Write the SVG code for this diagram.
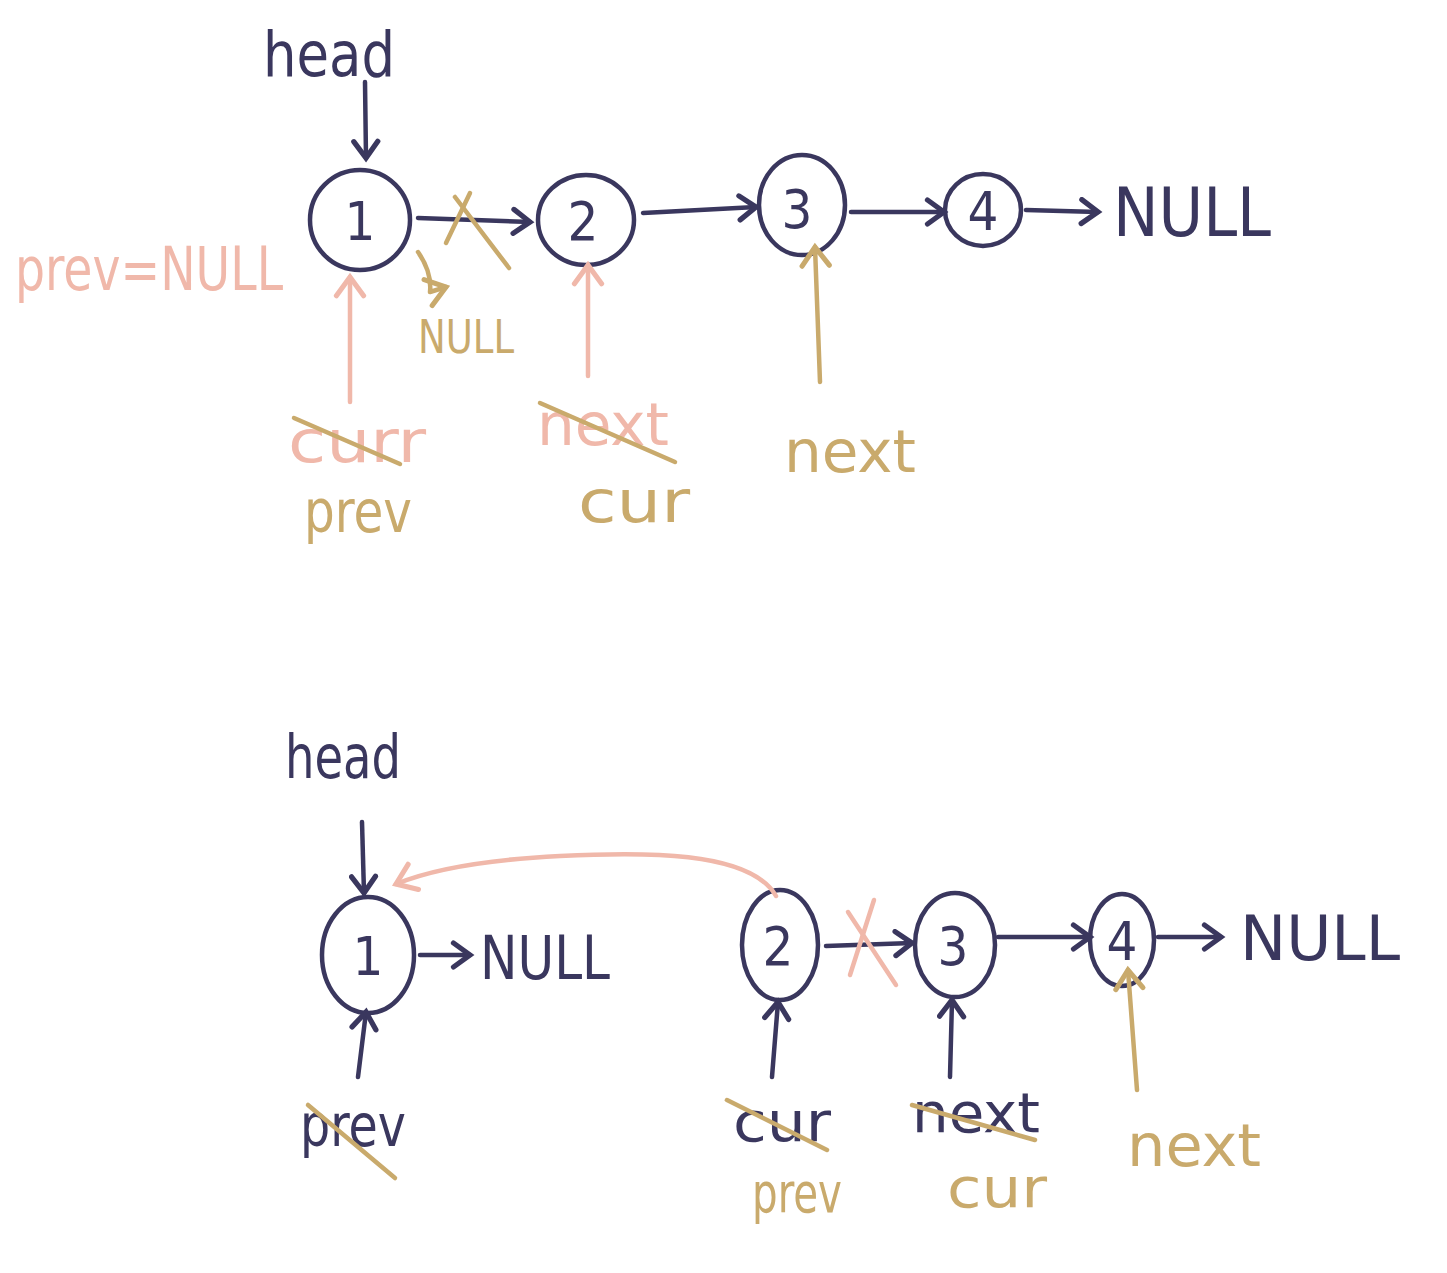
<svg xmlns="http://www.w3.org/2000/svg" width="1447" height="1273" viewBox="0 0 1447 1273">
<defs>
<style>
.n{fill:none;stroke:#3a375e;stroke-width:4.5;stroke-linecap:round;stroke-linejoin:round}
.p{fill:none;stroke:#f0b8aa;stroke-width:4.5;stroke-linecap:round;stroke-linejoin:round}
.g{fill:none;stroke:#c9aa6c;stroke-width:4.5;stroke-linecap:round;stroke-linejoin:round}
text{font-family:"DejaVu Sans","Liberation Sans",sans-serif;font-weight:normal;font-stretch:condensed}
.tn{fill:#3a375e}
.tp{fill:#f0b8aa}
.tg{fill:#c9aa6c}
.lbl{font-size:54px;text-anchor:middle}
</style>
<marker id="an" markerUnits="userSpaceOnUse" markerWidth="30" markerHeight="30" refX="14" refY="10" viewBox="0 0 20 20" orient="auto"><path d="M3,2 L14,10 L3,18" fill="none" stroke="#3a375e" stroke-width="3.5" stroke-linecap="round"/></marker>
<marker id="ap" markerUnits="userSpaceOnUse" markerWidth="34" markerHeight="34" refX="14" refY="10" viewBox="0 0 20 20" orient="auto"><path d="M3,2 L14,10 L3,18" fill="none" stroke="#f0b8aa" stroke-width="3" stroke-linecap="round"/></marker>
<marker id="ag" markerUnits="userSpaceOnUse" markerWidth="34" markerHeight="34" refX="14" refY="10" viewBox="0 0 20 20" orient="auto"><path d="M3,2 L14,10 L3,18" fill="none" stroke="#c9aa6c" stroke-width="3" stroke-linecap="round"/></marker>
</defs>
<rect width="1447" height="1273" fill="#ffffff"/>

<!-- Top diagram nodes -->
<g id="t-node1"><ellipse class="n" cx="360" cy="220" rx="50" ry="50"/><text class="tn lbl" x="360" y="240">1</text></g>
<g id="t-node2"><ellipse class="n" cx="586" cy="220" rx="48" ry="45"/><text class="tn lbl" x="583" y="240">2</text></g>
<g id="t-node3"><ellipse class="n" cx="802" cy="205" rx="43" ry="50"/><text class="tn lbl" x="797" y="228">3</text></g>
<g id="t-node4"><ellipse class="n" cx="983" cy="210" rx="38" ry="36"/><text class="tn lbl" x="983" y="230">4</text></g>
<g id="t-null"><text class="tn" x="1113" y="236" font-size="68" textLength="158" lengthAdjust="spacingAndGlyphs">NULL</text></g>
<g id="t-head"><text class="tn" x="263" y="76" font-size="62" textLength="132" lengthAdjust="spacingAndGlyphs">head</text></g>
<g id="t-prevnull"><text class="tp" x="15" y="290" font-size="60" textLength="268" lengthAdjust="spacingAndGlyphs">prev=NULL</text></g>
<g id="t-null2"><text class="tg" x="418" y="353" font-size="46" textLength="96" lengthAdjust="spacingAndGlyphs">NULL</text></g>
<g id="t-curr"><text class="tp" x="288" y="462" font-size="58" textLength="138" lengthAdjust="spacingAndGlyphs">curr</text></g>
<g id="t-prev"><text class="tg" x="304" y="532" font-size="58" textLength="108" lengthAdjust="spacingAndGlyphs">prev</text></g>
<g id="t-next1"><text class="tp" x="537" y="445" font-size="58" textLength="132" lengthAdjust="spacingAndGlyphs">next</text></g>
<g id="t-cur"><text class="tg" x="578" y="522" font-size="58" textLength="112" lengthAdjust="spacingAndGlyphs">cur</text></g>
<g id="t-next2"><text class="tg" x="784" y="472" font-size="58" textLength="132" lengthAdjust="spacingAndGlyphs">next</text></g>

<!-- Bottom diagram nodes -->
<g id="b-node1"><ellipse class="n" cx="368" cy="955" rx="46" ry="58"/><text class="tn lbl" x="368" y="975">1</text></g>
<g id="b-node2"><ellipse class="n" cx="780" cy="945" rx="38" ry="55"/><text class="tn lbl" x="778" y="965">2</text></g>
<g id="b-node3"><ellipse class="n" cx="955" cy="945" rx="40" ry="52"/><text class="tn lbl" x="953" y="965">3</text></g>
<g id="b-node4"><ellipse class="n" cx="1122" cy="940" rx="32" ry="46"/><text class="tn lbl" x="1122" y="960">4</text></g>
<g id="b-head"><text class="tn" x="285" y="778" font-size="60" textLength="116" lengthAdjust="spacingAndGlyphs">head</text></g>
<g id="b-null1"><text class="tn" x="480" y="979" font-size="60" textLength="130" lengthAdjust="spacingAndGlyphs">NULL</text></g>
<g id="b-null2"><text class="tn" x="1240" y="960" font-size="62" textLength="160" lengthAdjust="spacingAndGlyphs">NULL</text></g>
<g id="b-prev"><text class="tn" x="300" y="1146" font-size="58" textLength="106" lengthAdjust="spacingAndGlyphs">prev</text></g>
<g id="b-cur"><text class="tn" x="733" y="1141" font-size="56" textLength="98" lengthAdjust="spacingAndGlyphs">cur</text></g>
<g id="b-next1"><text class="tn" x="912" y="1132" font-size="56" textLength="128" lengthAdjust="spacingAndGlyphs">next</text></g>
<g id="b-next2"><text class="tg" x="1127" y="1166" font-size="58" textLength="134" lengthAdjust="spacingAndGlyphs">next</text></g>
<g id="b-prev2"><text class="tg" x="752" y="1212" font-size="56" textLength="90" lengthAdjust="spacingAndGlyphs">prev</text></g>
<g id="b-cur2"><text class="tg" x="947" y="1207" font-size="56" textLength="100" lengthAdjust="spacingAndGlyphs">cur</text></g>

<!-- Connectors -->
<g id="connectors">
<!-- top -->
<path class="n" d="M365,82 L366,158" marker-end="url(#an)"/>
<path class="n" d="M418,218 L530,222" marker-end="url(#an)"/>
<path class="n" d="M643,213 L756,207" marker-end="url(#an)"/>
<path class="n" d="M851,212 L944,212" marker-end="url(#an)"/>
<path class="n" d="M1026,210 L1098,212" marker-end="url(#an)"/>
<path class="g" d="M455,197 L509,268"/>
<path class="g" d="M470,193 L446,243"/>
<path class="g" d="M418,252 Q432,272 430,292 L446,287" marker-end="url(#ag)"/>
<path class="p" d="M350,402 L350,277" marker-end="url(#ap)"/>
<path class="g" d="M294,418 L400,464"/>
<path class="p" d="M588,376 L588,265" marker-end="url(#ap)"/>
<path class="g" d="M540,403 L675,462"/>
<path class="g" d="M820,382 L815,247" marker-end="url(#ag)"/>
<!-- bottom -->
<path class="n" d="M362,822 L364,893" marker-end="url(#an)"/>
<path class="n" d="M420,955 L470,955" marker-end="url(#an)"/>
<path class="p" d="M776,896 C750,850 640,852 560,856 C480,860 430,870 396,884" marker-end="url(#ap)"/>
<path class="n" d="M826,946 L912,943" marker-end="url(#an)"/>
<path class="n" d="M998,937 L1090,937" marker-end="url(#an)"/>
<path class="n" d="M1158,937 L1221,937" marker-end="url(#an)"/>
<path class="p" d="M848,912 L896,985"/>
<path class="p" d="M874,900 L850,975"/>
<path class="n" d="M358,1077 L366,1012" marker-end="url(#an)"/>
<path class="g" d="M308,1105 L395,1178"/>
<path class="n" d="M772,1077 L778,1002" marker-end="url(#an)"/>
<path class="g" d="M727,1100 L827,1150"/>
<path class="n" d="M950,1077 L952,1000" marker-end="url(#an)"/>
<path class="g" d="M912,1105 L1035,1140"/>
<path class="g" d="M1137,1090 L1128,970" marker-end="url(#ag)"/>
</g>
</svg>
